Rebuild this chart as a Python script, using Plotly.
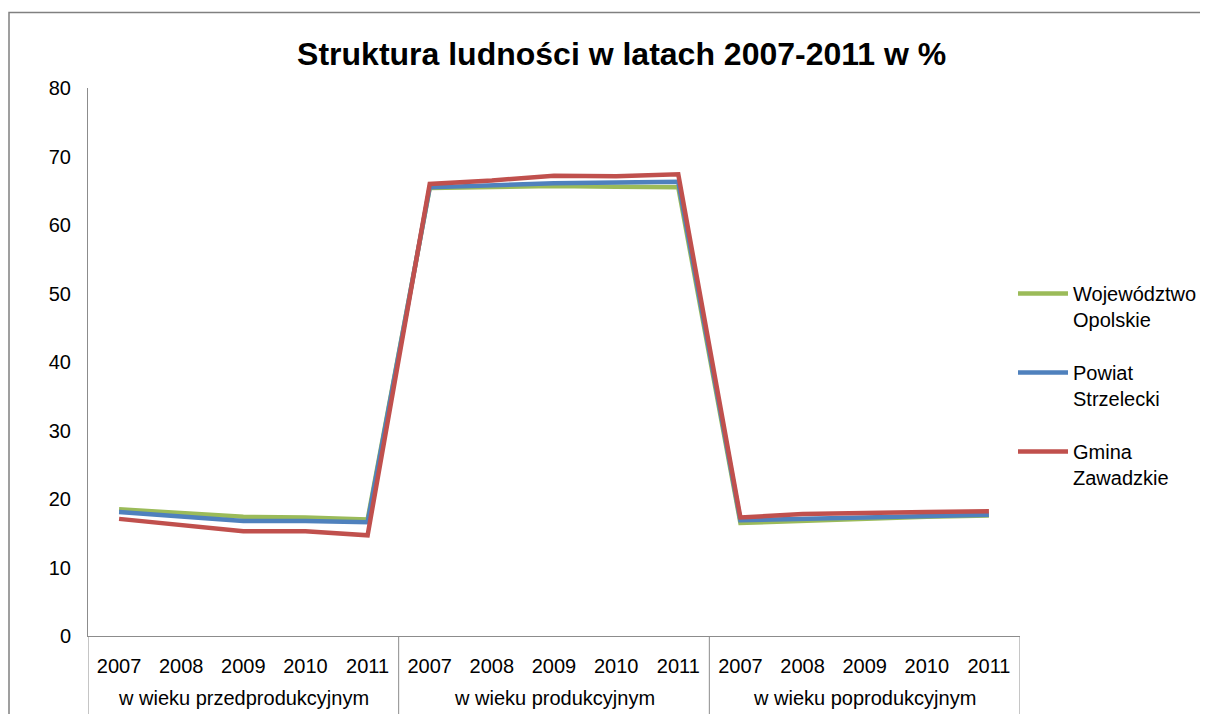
import plotly.graph_objects as go

# categories
groups = ["w wieku przedprodukcyjnym", "w wieku produkcyjnym", "w wieku poprodukcyjnym"]
years = ["2007", "2008", "2009", "2010", "2011"]

# series values (%), 5 years per group
wojewodztwo = [18.5, 17.9, 17.4, 17.3, 17.0,
               65.4, 65.6, 65.7, 65.6, 65.5,
               16.5, 16.8, 17.2, 17.4, 17.6]
powiat = [18.1, 17.5, 16.8, 16.8, 16.6,
          65.5, 65.8, 66.1, 66.2, 66.3,
          16.9, 17.1, 17.3, 17.5, 17.7]
gmina = [17.1, 16.2, 15.3, 15.3, 14.7,
         66.0, 66.5, 67.2, 67.1, 67.4,
         17.3, 17.8, 18.0, 18.1, 18.2]

series_names = ["Województwo<br>Opolskie", "Powiat<br>Strzelecki", "Gmina<br>Zawadzkie"]
colors = ["#9BBB59", "#4F81BD", "#C0504D"]

year_labels = [y for _ in groups for y in years]
idx = list(range(len(year_labels)))
n = len(years)

AXIS_GRAY = "#8C8C8C"
FONT = "Liberation Sans, Arial, sans-serif"

# the page shows the figure 8px in from the top-left corner
L, T, PW, PH = 80, 80, 932, 548

fig = go.Figure()
for k, (name, vals, col) in enumerate(zip(series_names, [wojewodztwo, powiat, gmina], colors)):
    fig.add_trace(go.Scatter(
        x=idx, y=vals, name=name, mode="lines", legendgroup=f"g{k}",
        line=dict(color=col, width=4.5),
    ))

fig.update_layout(
    width=1208, height=714,
    margin=dict(l=L, r=1208 - L - PW, t=T, b=714 - T - PH),
    paper_bgcolor="white", plot_bgcolor="white",
    font=dict(family=FONT, size=20, color="#000000"),
    title=dict(text="<b>Struktura ludności w latach 2007-2011 w %</b>",
               x=0.508, xanchor="center", y=1 - 46 / 714, yanchor="middle",
               font=dict(size=32)),
    showlegend=True,
    legend=dict(x=(1005 - L) / PW, xanchor="left", y=(PH + T - 266) / PH, yanchor="top",
                font=dict(size=20), tracegroupgap=24, itemwidth=50, valign="top",
                bgcolor="rgba(0,0,0,0)"),
    hovermode=False,
)

fig.update_xaxes(
    range=[-0.5, len(idx) - 0.5], tickvals=idx, ticktext=year_labels,
    showline=True, linecolor=AXIS_GRAY, linewidth=1,
    showgrid=False, zeroline=False, ticks="", ticklabelstandoff=12,
    tickfont=dict(size=20),
)
fig.update_yaxes(
    range=[0, 80], dtick=10, showgrid=False, zeroline=False,
    showline=True, linecolor=AXIS_GRAY, linewidth=1,
    ticks="", ticklabelstandoff=12, tickfont=dict(size=20),
)

# group labels under the years
for g, name in enumerate(groups):
    fig.add_annotation(x=g * n + (n - 1) / 2, y=-62 / PH, xref="x", yref="paper",
                       text=name, showarrow=False, yanchor="middle",
                       font=dict(size=20))

# dividers between groups (table-style axis)
for b in range(len(groups) + 1):
    fig.add_shape(type="line", xref="x", yref="paper",
                  x0=b * n - 0.5, x1=b * n - 0.5, y0=-0.2, y1=0,
                  line=dict(color=AXIS_GRAY, width=1))

# outer chart border
fig.add_shape(type="rect", xref="paper", yref="paper",
              x0=(1 - L) / PW, x1=(1220 - L) / PW,
              y0=-0.3, y1=(PH + T - 4.5) / PH,
              line=dict(color="#808080", width=1.5), fillcolor="rgba(0,0,0,0)",
              layer="below")

fig.write_html("out.html")
